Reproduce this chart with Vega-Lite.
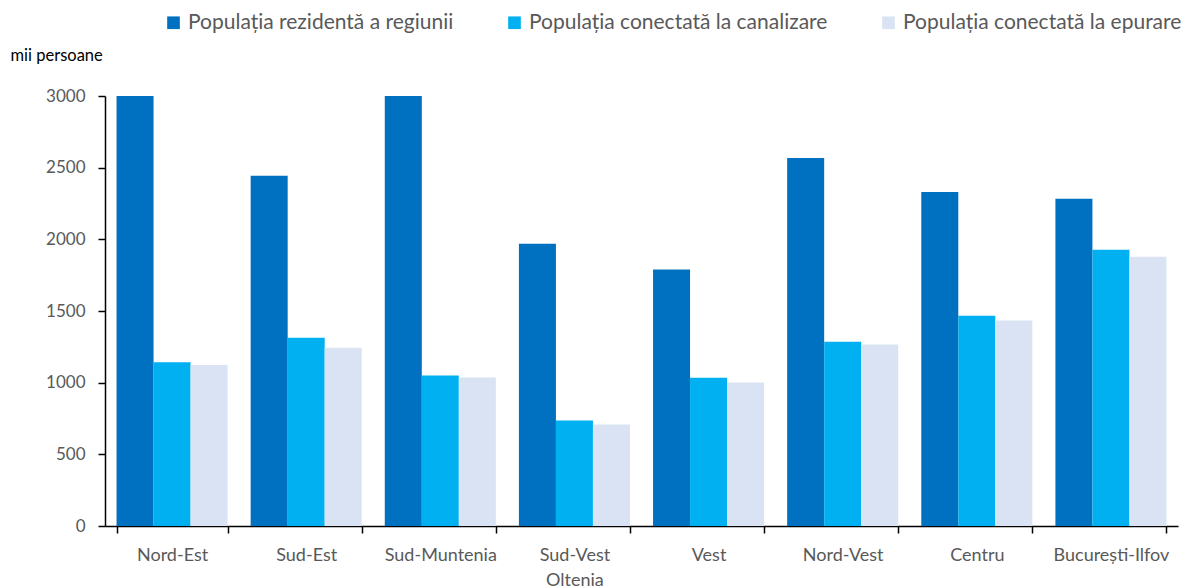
{
  "$schema": "https://vega.github.io/schema/vega-lite/v6.json",
  "width": 1073,
  "height": 430,
  "autosize": "none",
  "padding": {"left": 105, "top": 96, "right": 3, "bottom": 62},
  "background": "white",
  "config": {
    "view": {"stroke": null},
    "font": "Lato"
  },
  "data": {
    "values": [
      {"regiune": "Nord-Est", "serie": "Populația rezidentă a regiunii", "valoare": 3000},
      {"regiune": "Nord-Est", "serie": "Populația conectată la canalizare", "valoare": 1143},
      {"regiune": "Nord-Est", "serie": "Populația conectată la epurare", "valoare": 1124},
      {"regiune": "Sud-Est", "serie": "Populația rezidentă a regiunii", "valoare": 2444},
      {"regiune": "Sud-Est", "serie": "Populația conectată la canalizare", "valoare": 1313},
      {"regiune": "Sud-Est", "serie": "Populația conectată la epurare", "valoare": 1243},
      {"regiune": "Sud-Muntenia", "serie": "Populația rezidentă a regiunii", "valoare": 3000},
      {"regiune": "Sud-Muntenia", "serie": "Populația conectată la canalizare", "valoare": 1050},
      {"regiune": "Sud-Muntenia", "serie": "Populația conectată la epurare", "valoare": 1036},
      {"regiune": "Sud-Vest Oltenia", "serie": "Populația rezidentă a regiunii", "valoare": 1969},
      {"regiune": "Sud-Vest Oltenia", "serie": "Populația conectată la canalizare", "valoare": 736},
      {"regiune": "Sud-Vest Oltenia", "serie": "Populația conectată la epurare", "valoare": 708},
      {"regiune": "Vest", "serie": "Populația rezidentă a regiunii", "valoare": 1790},
      {"regiune": "Vest", "serie": "Populația conectată la canalizare", "valoare": 1034},
      {"regiune": "Vest", "serie": "Populația conectată la epurare", "valoare": 1001},
      {"regiune": "Nord-Vest", "serie": "Populația rezidentă a regiunii", "valoare": 2567},
      {"regiune": "Nord-Vest", "serie": "Populația conectată la canalizare", "valoare": 1285},
      {"regiune": "Nord-Vest", "serie": "Populația conectată la epurare", "valoare": 1266},
      {"regiune": "Centru", "serie": "Populația rezidentă a regiunii", "valoare": 2330},
      {"regiune": "Centru", "serie": "Populația conectată la canalizare", "valoare": 1466},
      {"regiune": "Centru", "serie": "Populația conectată la epurare", "valoare": 1434},
      {"regiune": "București-Ilfov", "serie": "Populația rezidentă a regiunii", "valoare": 2284},
      {"regiune": "București-Ilfov", "serie": "Populația conectată la canalizare", "valoare": 1927},
      {"regiune": "București-Ilfov", "serie": "Populația conectată la epurare", "valoare": 1878}
    ]
  },
  "mark": {"type": "bar", "clip": true},
  "encoding": {
    "x": {
      "field": "regiune",
      "type": "nominal",
      "sort": null,
      "scale": {"paddingInner": 0.172, "paddingOuter": 0.086},
      "axis": {
        "title": null,
        "labelAngle": 0,
        "labelFontSize": 18,
        "labelColor": "#595959",
        "labelPadding": 13,
        "tickBand": "extent",
        "tickSize": 7,
        "tickColor": "black",
        "tickWidth": 1.5,
        "domainColor": "black",
        "domainWidth": 1.5,
        "labelExpr": "datum.label == 'Sud-Vest Oltenia' ? ['Sud-Vest', 'Oltenia'] : datum.label",
        "labelLineHeight": 25
      }
    },
    "xOffset": {
      "field": "serie",
      "type": "nominal",
      "sort": ["Populația rezidentă a regiunii", "Populația conectată la canalizare", "Populația conectată la epurare"]
    },
    "y": {
      "field": "valoare",
      "type": "quantitative",
      "scale": {"domain": [0, 3000], "nice": false},
      "axis": {
        "title": "mii persoane",
        "titleAngle": 0,
        "titleAlign": "left",
        "titleBaseline": "middle",
        "titleX": -95,
        "titleY": -41,
        "titleFontSize": 16.5,
        "titleFontWeight": "normal",
        "titleColor": "#000000",
        "values": [0, 500, 1000, 1500, 2000, 2500, 3000],
        "format": "d",
        "grid": false,
        "labelFontSize": 17,
        "labelColor": "#595959",
        "labelPadding": 13,
        "tickSize": 7,
        "tickColor": "black",
        "tickWidth": 1.5,
        "domainColor": "black",
        "domainWidth": 1.5
      }
    },
    "color": {
      "field": "serie",
      "type": "nominal",
      "sort": ["Populația rezidentă a regiunii", "Populația conectată la canalizare", "Populația conectată la epurare"],
      "scale": {
        "domain": ["Populația rezidentă a regiunii", "Populația conectată la canalizare", "Populația conectată la epurare"],
        "range": ["#0070C0", "#00B0F0", "#DAE3F3"]
      },
      "legend": {
        "title": null,
        "orient": "none",
        "direction": "horizontal",
        "legendX": 58,
        "legendY": -84,
        "symbolType": "square",
        "symbolSize": 160,
        "symbolStrokeWidth": 0,
        "labelFontSize": 21,
        "labelColor": "#595959",
        "labelOffset": 4,
        "columnPadding": 50,
        "labelLimit": 400
      }
    }
  }
}
